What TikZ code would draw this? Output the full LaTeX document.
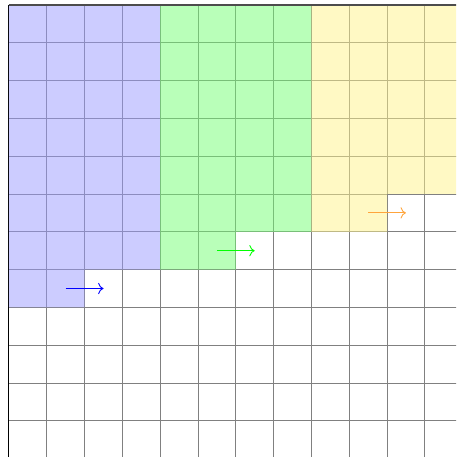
\documentclass[tikz,border=0pt]{standalone}
\usetikzlibrary{arrows.meta}
\definecolor{regblue}{RGB}{153,153,255}
\definecolor{reggreen}{RGB}{115,255,115}
\definecolor{regyellow}{RGB}{255,243,138}
\definecolor{arrorange}{RGB}{255,165,60}
\tikzset{
  gridline/.style={gray, line width=0.8pt},
  region/.style={fill opacity=0.5},
  movearrow/.style={-{To[scale=1.5]}, line width=0.9pt},
}
\begin{document}
\begin{tikzpicture}[x=37.8pt,y=-37.8pt]
\useasboundingbox (-0.2381,-0.1323) rectangle (11.8254,11.9577);
\clip (-0.2381,-0.1323) rectangle (11.8254,11.9577);
% grid
\foreach \k in {1,...,12} {
  \draw[gridline] (\k,0) -- (\k,12);
  \draw[gridline] (0,\k) -- (12,\k);
}
\draw[black, line width=1pt] (0,0) -- (0,12);
% regions
\fill[region, regblue] (0,0) -- (4,0) -- (4,7) -- (2,7) -- (2,8) -- (0,8) -- cycle;
\fill[region, reggreen] (4,0) -- (8,0) -- (8,6) -- (6,6) -- (6,7) -- (4,7) -- cycle;
\fill[region, regyellow] (8,0) -- (12,0) -- (12,5) -- (10,5) -- (10,6) -- (8,6) -- cycle;
% top border
\draw[black!70, line width=1.2pt] (0,0) -- (12,0);
% arrows
\coordinate (b1) at (1.5,7.5); \coordinate (b2) at (2.5,7.5);
\coordinate (g1) at (5.5,6.5); \coordinate (g2) at (6.5,6.5);
\coordinate (o1) at (9.5,5.5); \coordinate (o2) at (10.5,5.5);
\draw[movearrow, blue] (b1) -- (b2);
\draw[movearrow, green] (g1) -- (g2);
\draw[movearrow, arrorange] (o1) -- (o2);
\end{tikzpicture}
\end{document}
